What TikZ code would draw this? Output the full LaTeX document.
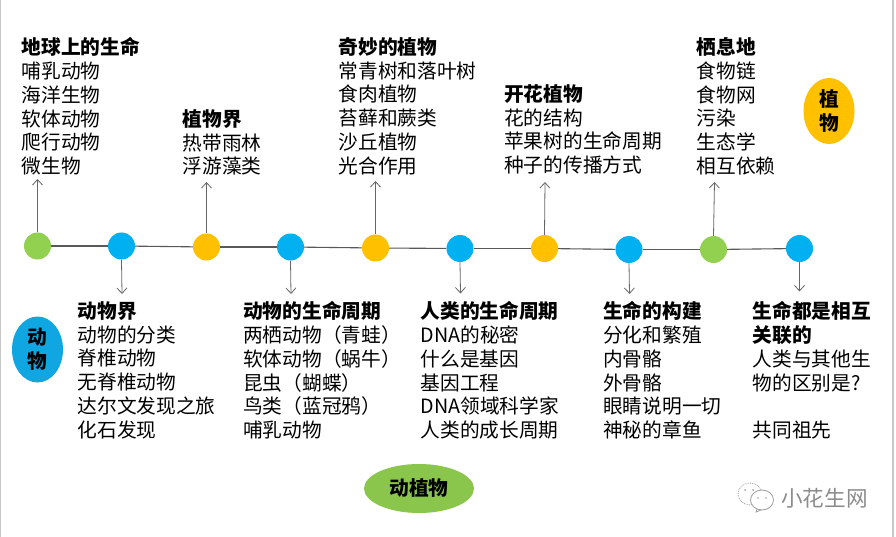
\documentclass[tikz,border=0pt]{standalone}
\usepackage{fontspec}
\setmainfont{Noto Sans CJK SC}
\usetikzlibrary{arrows.meta,shapes.geometric}
\definecolor{cgreen}{HTML}{92D050}
\definecolor{cblue}{HTML}{00B0F0}
\definecolor{corange}{HTML}{FFC000}
\definecolor{eblue}{HTML}{0FA6E2}
\tikzset{
  x=1pt,y=-1pt,
  dot/.style={circle,draw=none,minimum size=27pt,inner sep=0pt},
  spine/.style={draw=black!65,line width=1.1pt},
  topic/.style={anchor=north west,inner sep=0pt,align=left,font=\fontsize{19.7}{23.7}\selectfont},
  link/.style={draw=black!60,line width=0.8pt,-{Straight Barb[length=5.5pt,width=10pt,line width=0.8pt]}},
  blob/.style={shape=ellipse,draw=none,inner sep=0pt,align=center,font=\fontsize{19.7}{23.7}\selectfont\bfseries},
  mark text/.style={text=black!45,font=\fontsize{21.6}{24}\selectfont},
}
\begin{document}
\begin{tikzpicture}
\useasboundingbox (0,0) rectangle (896,537);
\fill[white] (0,0) rectangle (896,537);
\fill[black!22] (0,0) rectangle (1.3,537);
\fill[black!22] (892,0) rectangle (893.5,537);

% timeline dots
\node[dot,fill=cgreen]  (c1)  at (37.5,246) {};
\node[dot,fill=cblue]   (c2)  at (121.5,246) {};
\node[dot,fill=corange] (c3)  at (206.5,247) {};
\node[dot,fill=cblue]   (c4)  at (290.5,247) {};
\node[dot,fill=corange] (c5)  at (375.5,248) {};
\node[dot,fill=cblue]   (c6)  at (460,248.5) {};
\node[dot,fill=corange] (c7)  at (544.5,248.5) {};
\node[dot,fill=cblue]   (c8)  at (629,249.5) {};
\node[dot,fill=cgreen]  (c9)  at (713.5,249.5) {};
\node[dot,fill=cblue]   (c10) at (799.5,248.5) {};
\foreach \a/\b in {c1/c2,c2/c3,c3/c4,c4/c5,c5/c6,c6/c7,c7/c8,c8/c9,c9/c10}
  \draw[spine] (\a) -- (\b);

% upper text
\node[topic] (t1) at (21.5,37.5) {\textbf{地球上的生命}\\哺乳动物\\海洋生物\\软体动物\\爬行动物\\微生物};
\node[topic] (t3) at (182.5,109.5) {\textbf{植物界}\\热带雨林\\浮游藻类};
\node[topic] (t5) at (338.5,37.5) {\textbf{奇妙的植物}\\常青树和落叶树\\食肉植物\\苔藓和蕨类\\沙丘植物\\光合作用};
\node[topic] (t7) at (504,84.5) {\textbf{开花植物}\\花的结构\\苹果树的生命周期\\种子的传播方式};
\node[topic] (t9) at (696.5,37.5) {\textbf{栖息地}\\食物链\\食物网\\污染\\生态学\\相互依赖};

% lower text
\node[topic] (t2) at (77.5,301.5) {\textbf{动物界}\\动物的分类\\脊椎动物\\无脊椎动物\\达尔文发现之旅\\化石发现};
\node[topic] (t4) at (243,301.5) {\textbf{动物的生命周期}\\两栖动物（青蛙）\\软体动物（蜗牛）\\昆虫（蝴蝶）\\鸟类（蓝冠鸦）\\哺乳动物};
\node[topic] (t6) at (420.5,301.5) {\textbf{人类的生命周期}\\DNA的秘密\\什么是基因\\基因工程\\DNA领域科学家\\人类的成长周期};
\node[topic] (t8) at (603,301.5) {\textbf{生命的构建}\\分化和繁殖\\内骨骼\\外骨骼\\眼睛说明一切\\神秘的章鱼};
\node[topic] (t10) at (752.5,301.5) {\textbf{生命都是相互}\\\textbf{关联的}\\人类与其他生\\物的区别是?\\\\共同祖先};

% arrows
\coordinate (e1) at (37.5,179);
\coordinate (e3) at (206.5,182);
\coordinate (e5) at (375.5,181);
\coordinate (e7) at (545,182);
\coordinate (e9) at (714.5,182);
\coordinate (e2) at (122,294);
\coordinate (e4) at (291,294);
\coordinate (e6) at (460.5,293.5);
\coordinate (e8) at (629.5,294);
\coordinate (e10) at (799.5,291.5);
\foreach \i in {1,3,5,7,9}
  \draw[link] (c\i.north) -- (e\i);
\foreach \i in {2,4,6,8,10}
  \draw[link] (c\i.south) -- (e\i);

% category ellipses
\node[blob,fill=eblue,minimum width=51pt,minimum height=66pt] (animal) at (37.5,349.5) {动\\物};
\node[blob,fill=corange,minimum width=51pt,minimum height=66pt] (plant) at (829,111) {植\\物};
\node[blob,fill=cgreen!95!black,minimum width=110pt,minimum height=49pt] (both) at (419,488.5) {动植物};

% watermark
\begin{scope}[draw=black!38,line width=0.8pt]
  \draw[densely dotted] (750,494) ellipse [x radius=12,y radius=11];
  \fill[white] (762,500) ellipse [x radius=11.5,y radius=10];
  \draw (762,500) ellipse [x radius=11.5,y radius=10];
  \draw (757,509) -- (756,512) -- (761,510);
  \fill[black!38] (745,490) circle (1) (753,490) circle (1) (758,498) circle (0.9) (766,498) circle (0.9);
\end{scope}
\node[mark text,anchor=west,inner sep=0pt] (wm) at (781,498) {小花生网};
\end{tikzpicture}
\end{document}
